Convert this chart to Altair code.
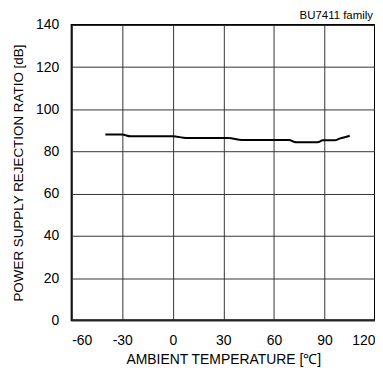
import altair as alt
import pandas as pd

temperature = [-40, -30, -25, 0, 8, 33, 41, 69, 73, 86, 89, 96, 99, 105]
psrr_db = [88.1, 88.0, 87.2, 87.2, 86.4, 86.4, 85.5, 85.5, 84.4, 84.4, 85.3, 85.3, 86.1, 87.5]

x_ticks = [-60, -30, 0, 30, 60, 90, 120]
y_ticks = [0, 20, 40, 60, 80, 100, 120, 140]

df = pd.DataFrame({"t": temperature, "v": psrr_db})

font = "Liberation Sans"

chart = alt.Chart(df).mark_line(color="black", strokeWidth=2, interpolate="monotone").encode(
    x=alt.X("t:Q", scale=alt.Scale(domain=[-60, 120], nice=False),
            axis=alt.Axis(values=x_ticks, title="AMBIENT TEMPERATURE [℃]", grid=True,
                          gridColor="#333", gridWidth=1, domain=False, tickSize=0,
                          labelExpr="'' + datum.value",
                          labelPadding=13, titlePadding=5, labelFontSize=14, titleFontSize=14,
                          labelFont=font, titleFont=font, titleFontWeight="normal",
                          labelColor="black", titleColor="black")),
    y=alt.Y("v:Q", scale=alt.Scale(domain=[0, 140], nice=False),
            axis=alt.Axis(values=y_ticks, title="POWER SUPPLY REJECTION RATIO [dB]", grid=True,
                          gridColor="#333", gridWidth=1, domain=False, tickSize=0,
                          labelPadding=13, titlePadding=10, labelFontSize=14, titleFontSize=13.5,
                          labelFont=font, titleFont=font, titleFontWeight="normal",
                          labelColor="black", titleColor="black")),
).properties(
    width=305, height=297,
    title=alt.TitleParams("BU7411 family", anchor="end", fontSize=11.5, fontWeight="normal",
                          font=font, color="black", offset=-4, frame="group", dx=-2),
    autosize=alt.AutoSizeParams(type="none"),
    padding={"left": 64, "top": 16, "right": 0, "bottom": 50},
).configure_view(stroke="black", strokeWidth=2)

chart.save("out.html", embed_options={"renderer": "svg", "actions": False})
